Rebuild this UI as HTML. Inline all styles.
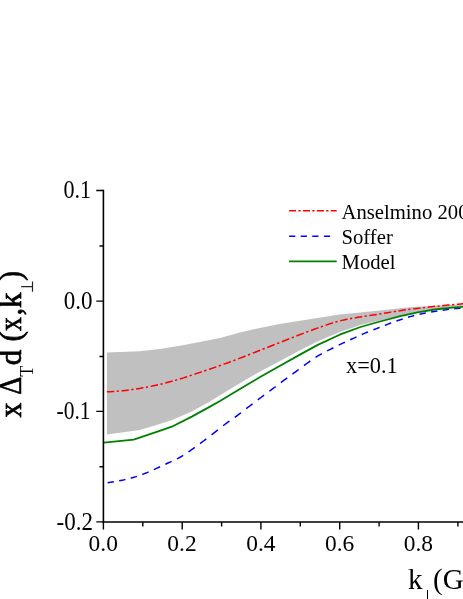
<!DOCTYPE html>
<html><head><meta charset="utf-8">
<style>
html,body{margin:0;padding:0;background:#fff;}
body{width:463px;height:599px;overflow:hidden;position:relative;font-family:"Liberation Serif",serif;}
svg{position:absolute;left:0;top:0;display:block;will-change:transform;}
text{font-family:"Liberation Serif",serif;fill:#000;}
</style></head><body>
<svg width="463" height="599" viewBox="0 0 463 599">
<rect width="463" height="599" fill="#fff"/>
<path fill="#c0c0c0" d="M106.90,352.60 L139.70,351.20 L159.70,348.90 L179.80,345.70 L199.60,341.90 L220.00,338.00 L239.90,332.60 L259.70,328.00 L279.60,324.00 L300.00,320.80 L339.70,314.40 L380.00,310.60 L409.00,307.30 L417.60,306.80 L463.00,304.30 L463.0,306.4 L452.1,307.2 L434.8,309.1 L417.6,312.0 L400.3,315.8 L380.0,320.6 L360.5,325.0 L339.7,332.0 L317.3,341.5 L300.0,350.2 L279.6,361.3 L259.7,371.7 L239.9,383.2 L220.0,395.3 L209.1,401.9 L191.8,411.4 L171.5,420.2 L157.3,424.7 L139.7,430.0 L106.9,434.5 Z"/>
<path fill="none" stroke="#0000ff" stroke-width="1.5" d="M107.60,482.70 L109.17,482.49 L110.75,482.26 L112.32,482.01 L113.90,481.76 M119.15,480.82 L120.73,480.52 L122.30,480.20 L123.88,479.86 L125.45,479.51 M130.71,478.22 L132.28,477.79 L133.86,477.34 L135.43,476.86 L137.01,476.35 M142.26,474.49 L143.83,473.89 L145.41,473.28 L146.98,472.64 L148.56,471.98 M153.81,469.62 L155.39,468.91 L156.96,468.19 L158.54,467.47 L160.11,466.75 M165.36,464.29 L166.94,463.54 L168.51,462.80 L170.09,462.06 L171.66,461.34 M176.92,458.87 L178.49,458.06 L180.07,457.22 L181.64,456.31 L183.22,455.35 M188.47,451.85 L190.05,450.76 L191.62,449.68 L193.20,448.58 L194.77,447.45 M200.02,443.60 L201.60,442.42 L203.17,441.24 L204.75,440.06 L206.32,438.87 M211.58,434.84 L213.15,433.62 L214.73,432.40 L216.30,431.16 L217.88,429.91 M223.13,425.72 L224.70,424.50 L226.28,423.32 L227.85,422.18 L229.43,421.06 M234.68,417.40 L236.26,416.28 L237.83,415.13 L239.41,413.95 L240.98,412.74 M246.24,408.66 L247.81,407.44 L249.39,406.23 L250.96,405.03 L252.54,403.83 M257.79,399.86 L259.36,398.68 L260.94,397.50 L262.51,396.32 L264.09,395.15 M269.34,391.27 L270.92,390.11 L272.49,388.93 L274.07,387.75 L275.64,386.56 M280.89,382.57 L282.47,381.39 L284.04,380.22 L285.62,379.06 L287.19,377.91 M292.45,374.10 L294.02,372.96 L295.60,371.83 L297.17,370.68 L298.75,369.52 M304.00,365.60 L305.58,364.42 L307.15,363.26 L308.73,362.10 L310.30,360.97 M315.55,357.39 L317.13,356.39 L318.70,355.44 L320.28,354.53 L321.85,353.66 M327.11,350.92 L328.68,350.12 L330.26,349.32 L331.83,348.52 L333.41,347.74 M338.66,345.19 L340.23,344.44 L341.81,343.69 L343.38,342.94 L344.96,342.21 M350.21,339.77 L351.79,339.05 L353.36,338.33 L354.94,337.61 L356.51,336.89 M361.77,334.50 L363.34,333.82 L364.92,333.15 L366.49,332.51 L368.07,331.89 M373.32,329.89 L374.89,329.29 L376.47,328.67 L378.04,328.05 L379.62,327.41 M384.87,325.33 L386.45,324.73 L388.02,324.13 L389.60,323.53 L391.17,322.93 M396.42,321.01 L398.00,320.47 L399.57,319.94 L401.15,319.43 L402.72,318.92 M407.98,317.30 L409.55,316.83 L411.13,316.38 L412.70,315.94 L414.28,315.52 M419.53,314.25 L421.11,313.90 L422.68,313.56 L424.26,313.23 L425.83,312.91 M431.08,311.92 L432.66,311.65 L434.23,311.39 L435.81,311.14 L437.38,310.90 M442.64,310.15 L444.21,309.94 L445.79,309.74 L447.36,309.55 L448.94,309.36 M454.19,308.78 L455.76,308.61 L457.34,308.46 L458.91,308.31 L460.49,308.16 M465.74,307.72 L466.00,307.70"/>
<path fill="none" stroke="#008000" stroke-width="1.8" stroke-linejoin="round" d="M103.80,442.60 L133.70,439.70 L159.60,430.90 L171.80,426.70 L191.80,416.60 L209.10,407.10 L220.00,401.00 L239.90,389.10 L259.70,377.30 L279.60,366.00 L300.00,354.60 L317.30,345.10 L339.70,334.70 L360.50,327.00 L380.00,321.50 L400.30,316.20 L417.60,312.40 L434.80,309.50 L452.10,307.60 L463.00,306.80"/>
<path fill="none" stroke="#ff0000" stroke-width="1.5" d="M106.90,391.80 L108.75,391.73 L110.60,391.64 L112.45,391.54 L114.30,391.42 M116.70,391.25 L118.90,391.08 M121.48,390.86 L123.33,390.68 L125.18,390.48 L127.03,390.25 L128.88,390.01 M131.28,389.68 L133.48,389.36 M136.06,388.97 L137.91,388.68 L139.76,388.39 L141.61,388.09 L143.46,387.77 M145.86,387.33 L148.06,386.91 M150.64,386.38 L152.49,386.00 L154.34,385.60 L156.19,385.19 L158.04,384.78 M160.44,384.23 L162.64,383.70 M165.22,383.06 L167.07,382.58 L168.92,382.09 L170.77,381.59 L172.62,381.07 M175.02,380.39 L177.22,379.76 M179.80,379.00 L181.65,378.44 L183.50,377.87 L185.35,377.28 L187.20,376.67 M189.60,375.88 L191.80,375.14 M194.38,374.26 L196.23,373.63 L198.08,373.01 L199.93,372.39 L201.78,371.77 M204.18,370.98 L206.38,370.25 M208.96,369.39 L210.81,368.76 L212.66,368.14 L214.51,367.51 L216.36,366.87 M218.76,366.04 L220.96,365.26 M223.54,364.33 L225.39,363.66 L227.24,362.98 L229.09,362.29 L230.94,361.60 M233.34,360.70 L235.54,359.86 M238.12,358.88 L239.97,358.17 L241.82,357.46 L243.67,356.74 L245.52,356.02 M247.92,355.07 L250.12,354.20 M252.70,353.17 L254.55,352.44 L256.40,351.70 L258.25,350.97 L260.10,350.24 M262.50,349.30 L264.70,348.44 M267.28,347.43 L269.13,346.70 L270.98,345.98 L272.83,345.25 L274.68,344.53 M277.08,343.59 L279.28,342.73 M281.86,341.71 L283.71,340.98 L285.56,340.25 L287.41,339.52 L289.26,338.78 M291.66,337.84 L293.86,336.97 M296.44,335.97 L298.29,335.25 L300.14,334.55 L301.99,333.84 L303.84,333.14 M306.24,332.22 L308.44,331.39 M311.02,330.43 L312.87,329.74 L314.72,329.07 L316.57,328.40 L318.42,327.75 M320.82,326.92 L323.02,326.15 M325.60,325.24 L327.45,324.60 L329.30,323.96 L331.15,323.35 L333.00,322.75 M335.40,322.03 L337.60,321.42 M340.18,320.79 L342.03,320.37 L343.88,319.97 L345.73,319.59 L347.58,319.22 M349.98,318.75 L352.18,318.35 M354.76,317.89 L356.61,317.58 L358.46,317.27 L360.31,316.97 L362.16,316.67 M364.56,316.30 L366.76,315.96 M369.34,315.57 L371.19,315.28 L373.04,315.00 L374.89,314.72 L376.74,314.43 M379.14,314.06 L381.34,313.71 M383.92,313.29 L385.77,312.98 L387.62,312.68 L389.47,312.38 L391.32,312.07 M393.72,311.68 L395.92,311.33 M398.50,310.93 L400.35,310.64 L402.20,310.36 L404.05,310.09 L405.90,309.82 M408.30,309.49 L410.50,309.20 M413.08,308.87 L414.93,308.64 L416.78,308.41 L418.63,308.19 L420.48,307.97 M422.88,307.69 L425.08,307.44 M427.66,307.16 L429.51,306.96 L431.36,306.76 L433.21,306.56 L435.06,306.37 M437.46,306.13 L439.66,305.91 M442.24,305.65 L444.09,305.47 L445.94,305.30 L447.79,305.12 L449.64,304.95 M452.04,304.73 L454.24,304.54 M456.82,304.31 L458.67,304.15 L460.52,304.00 L462.37,303.85 L464.22,303.70"/>
<g stroke="#000" stroke-width="1.4" fill="none">
<path d="M103.4,189.8 V522.8" stroke-width="1.6"/>
<path d="M102.6,522 H463" stroke-width="1.6"/>
<path d="M96.3,190.5 H103.5 M96.3,301.1 H103.5 M96.3,411.4 H103.5 M96.3,521.9 H103.5"/>
<path d="M99.5,246 H103.5 M99.5,356.5 H103.5 M99.5,466.7 H103.5"/>
<path d="M103.4,522 V529.6 M182.2,522 V529.6 M260.9,522 V529.6 M339.7,522 V529.6 M418.4,522 V529.6"/>
<path d="M142.8,522 V526.5 M221.6,522 V526.5 M300.3,522 V526.5 M379.1,522 V526.5 M457.9,522 V526.5"/>
</g>
<text transform="translate(63.52,198.20) scale(0.913,1)" font-size="24.2px">0.1</text><text transform="translate(63.78,308.80) scale(0.950,1)" font-size="24.2px">0.0</text><text transform="translate(56.55,419.00) scale(0.888,1)" font-size="24.2px">-0.1</text><text transform="translate(56.49,529.60) scale(0.951,1)" font-size="24.2px">-0.2</text>
<g font-size="23.8px" text-anchor="middle">
<text transform="translate(103.2,551.3) scale(0.985,1)">0.0</text>
<text transform="translate(182,551.3) scale(0.985,1)">0.2</text>
<text transform="translate(260.8,551.3) scale(0.985,1)">0.4</text>
<text transform="translate(339.6,551.3) scale(0.985,1)">0.6</text>
<text transform="translate(418.4,551.3) scale(0.985,1)">0.8</text>
</g>
<path fill="none" stroke="#ff0000" stroke-width="1.5" stroke-dasharray="7,2.3,2.3,2.3" d="M289.1,210.8 H336.7"/>
<path fill="none" stroke="#0000ff" stroke-width="1.5" stroke-dasharray="6.2,5.4" d="M289.1,236.2 H335"/>
<path fill="none" stroke="#008000" stroke-width="1.8" d="M289.1,261.3 H336.7"/>
<g font-size="20.7px">
<text x="341.5" y="218.5">Anselmino 2007</text>
<text x="341.5" y="243.9">Soffer</text>
<text x="341.5" y="268.9">Model</text>
<text transform="translate(346,373) scale(0.985,1)" font-size="22.7px">x=0.1</text>
</g>
<text x="408" y="588.6" font-size="29px">k</text>
<path d="M427.5,590 V599" stroke="#000" stroke-width="1"/>
<text x="433.1" y="588.6" font-size="29px">(GeV)</text>
<g transform="translate(20.9,418) rotate(-90)"><text transform="translate(0.40,0.00) scale(0.917,1)" font-size="32.5px" font-weight="normal" stroke="#000" stroke-width="0.7">x</text><text stroke="#000" stroke-width="0.5" transform="translate(23.28,0.00) scale(0.914,1)" font-size="30.6px" font-weight="normal">&#916;</text><text transform="translate(41.34,11.90) scale(0.918,1)" font-size="19.7px" font-weight="normal">T</text><text transform="translate(52.63,0.00) scale(0.982,1)" font-size="31.5px" font-weight="normal" stroke="#000" stroke-width="0.7">d</text><text transform="translate(76.51,0.00) scale(1.009,1)" font-size="31.0px" font-weight="normal" stroke="#000" stroke-width="0.7">(</text><text transform="translate(87.10,0.00) scale(0.849,1)" font-size="32.5px" font-weight="normal" stroke="#000" stroke-width="0.7">x</text><text transform="translate(102.65,0.00) scale(0.890,1)" font-size="32.0px" font-weight="normal" stroke="#000" stroke-width="0.7">,</text><text transform="translate(109.99,0.00) scale(0.984,1)" font-size="31.5px" font-weight="normal" stroke="#000" stroke-width="0.7">k</text><text transform="translate(137.31,0.00) scale(0.945,1)" font-size="31.0px" font-weight="normal" stroke="#000" stroke-width="0.7">)</text><path d="M126.2,11.6 H136.6 M131.4,11.6 V0.3" stroke="#222" stroke-width="1.2" fill="none"/></g>
</svg>
</body></html>
